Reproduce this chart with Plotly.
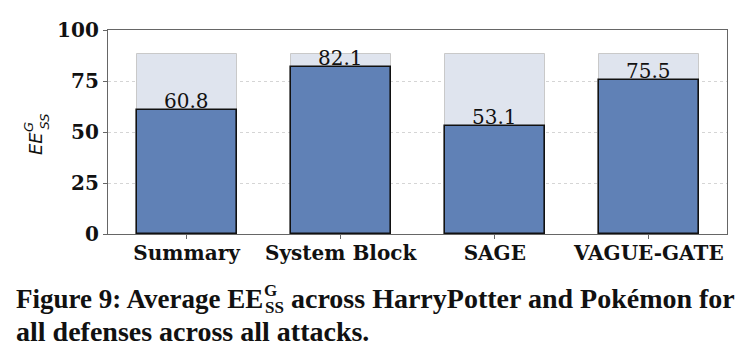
import plotly.graph_objects as go

# ---- data ----
categories = ["Summary", "System Block", "SAGE", "VAGUE-GATE"]
values = [60.8, 82.1, 53.1, 75.5]
upper = [88, 88, 88, 88]
y_ticks = [0, 25, 50, 75, 100]

W, H = 753, 362
L, R, T, B = 108, 26, 30, 128
PW, PH = W - L - R, H - T - B


def px(x):
    return (x - L) / PW


def py(y):
    return (H - B - y) / PH


fig = go.Figure()
fig.add_trace(go.Bar(
    x=categories, y=upper, width=0.65,
    marker=dict(color="#dfe4ee", line=dict(color="#c9c9c9", width=1)),
    hoverinfo="skip", showlegend=False))
fig.add_trace(go.Bar(
    x=categories, y=values, width=0.65,
    marker=dict(color="#6081b6", line=dict(color="#111111", width=1.6)),
    showlegend=False))

annotations = []
for c, v in zip(categories, values):
    annotations.append(dict(
        x=c, y=v, xref="x", yref="y", text=f"{v:.1f}", showarrow=False,
        xanchor="center", yanchor="bottom", yshift=-5,
        font=dict(family="DejaVu Serif", size=20, color="#111111")))

# y-axis label EE_SS^G (rotated)
lab_font = dict(family="DejaVu Sans", color="#111111", style="italic")
annotations += [
    dict(x=px(35.5), y=py(143.5), xref="paper", yref="paper", text="EE",
         textangle=-90, showarrow=False, xanchor="center", yanchor="middle",
         font=dict(size=18, **lab_font)),
    dict(x=px(44.5), y=py(122), xref="paper", yref="paper", text="SS",
         textangle=-90, showarrow=False, xanchor="center", yanchor="middle",
         font=dict(size=13, **lab_font)),
    dict(x=px(28), y=py(127), xref="paper", yref="paper", text="G",
         textangle=-90, showarrow=False, xanchor="center", yanchor="middle",
         font=dict(size=13, **lab_font)),
]

# caption
cap27 = dict(family="Liberation Serif", size=27, color="#111111", weight="bold")
cap = dict(family="Liberation Serif", size=28, color="#111111", weight="bold")
cap_s = dict(family="Liberation Serif", size=17, color="#111111", weight="bold")
annotations += [
    dict(x=px(15), y=py(298.5), xref="paper", yref="paper",
         text="Figure 9: Average EE", showarrow=False, borderpad=0,
         xanchor="left", yanchor="middle", font=cap27),
    dict(x=px(274), y=py(307), xref="paper", yref="paper", text="SS",
         showarrow=False, xanchor="center", yanchor="middle", font=cap_s,
         borderpad=0),
    dict(x=px(270), y=py(290), xref="paper", yref="paper", text="G",
         showarrow=False, xanchor="center", yanchor="middle", font=cap_s,
         borderpad=0),
    dict(x=px(290), y=py(298.5), xref="paper", yref="paper",
         text="across HarryPotter and Pokémon for", showarrow=False,
         xanchor="left", yanchor="middle", font=cap, borderpad=0),
    dict(x=px(15), y=py(331.5), xref="paper", yref="paper",
         text="all defenses across all attacks.", showarrow=False,
         xanchor="left", yanchor="middle", font=cap, borderpad=0),
]

fig.update_layout(
    width=W, height=H,
    margin=dict(l=L, r=R, t=T, b=B, pad=0),
    paper_bgcolor="white", plot_bgcolor="white",
    barmode="overlay", bargap=0,
    annotations=annotations,
)
fig.update_xaxes(
    range=[-0.51, 3.507], showline=True, mirror=True, linecolor="#666666",
    linewidth=1.3, ticks="outside", ticklen=4, tickcolor="#666666",
    showgrid=False, ticklabelstandoff=-3,
    tickfont=dict(family="DejaVu Serif", size=20, color="#111111", weight="bold"))
fig.update_yaxes(
    range=[0, 100], tickvals=y_ticks, showline=True, mirror=True,
    linecolor="#666666", linewidth=1.3, ticks="outside", ticklen=4,
    tickcolor="#666666", showgrid=True, gridcolor="#d5d5d5", griddash="dot",
    gridwidth=1, zeroline=False,
    tickfont=dict(family="DejaVu Serif", size=20, color="#111111", weight="bold"))

fig.write_html("out.html")
